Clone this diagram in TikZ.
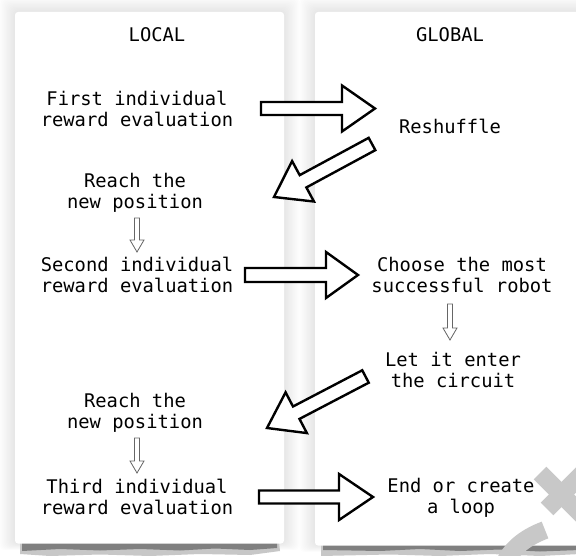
\documentclass[tikz,border=0pt]{standalone}
\usepackage{fontspec}
\newfontfamily\dmono{DejaVu Sans Mono}
\usetikzlibrary{calc}
\definecolor{wmgray}{HTML}{C8C8C8}
\tikzset{
  lbl/.style={font=\dmono\fontsize{18.8}{21}\selectfont, align=center, inner sep=0pt, text=black},
  bigarr/.style={draw=black, fill=white, line width=2.4pt, line join=miter},
  smallarr/.style={draw=black!60, fill=white, line width=0.8pt, line join=miter},
  panel/.style={fill=white, rounded corners=3pt},
  glow/.style={fill=black, opacity=0.007, rounded corners=6pt},
  torn/.style={fill=black!50},
  tornsoft/.style={fill=black!22},
  wm/.style={draw=wmgray, line cap=butt},
}
% block arrow: style, from, to, shaft half width, head half width, head length
\newcommand\blockarrow[6]{%
  \path[#1] ($(#2)!#4!90:(#3)$) -- ($(#3)!#6!(#2)!#4!-90:(#2)$)
    -- ($(#3)!#6!(#2)!#5!-90:(#2)$) -- (#3)
    -- ($(#3)!#6!(#2)!#5!90:(#2)$) -- ($(#3)!#6!(#2)!#4!90:(#2)$)
    -- ($(#2)!#4!-90:(#3)$) -- cycle;}
\begin{document}
\begin{tikzpicture}[x=1pt, y=-1pt]
\useasboundingbox (0,0) rectangle (576,556);
\clip (0,0) rectangle (576,556);
\fill[white] (0,0) rectangle (576,556);
% soft glow around panels
\foreach \i in {1,...,12} {
  \fill[glow] ({15-\i*1.3},{12-\i*1.3}) rectangle ({284+\i*1.3},{543+\i*0.6});
  \fill[glow] ({315-\i*1.3},{12-\i*1.3}) rectangle ({600+\i*1.3},{545+\i*0.6});
}
% torn bottom shadows
\fill[tornsoft] (20,542) -- (279,542) -- (280,551) -- (250,555) -- (200,554) -- (150,556) -- (100,554.5) -- (50,556) -- (20,554) -- cycle;
\fill[torn] (22,543) -- (277,543) -- (277,548) -- (250,550) -- (215,548.5) -- (180,550.5) -- (140,549) -- (100,550.5) -- (60,549) -- (22,551) -- cycle;
\fill[tornsoft] (321,544) -- (580,544) -- (580,554) -- (540,556) -- (490,554) -- (440,556) -- (390,554.5) -- (321,556) -- cycle;
\fill[torn] (323,545) -- (580,545) -- (580,550) -- (540,551.5) -- (500,549.5) -- (460,551) -- (420,549) -- (380,551) -- (323,550) -- cycle;
% panels
\fill[panel] (15,12) rectangle (284,543.5);
\fill[panel] (315,12) rectangle (600,545.5);
% watermark
\draw[wm, line width=18pt] (540,473) -- (600,533);
\draw[wm, line width=18pt] (547,509) -- (600,456);
\draw[wm, line width=18pt] (503,566) .. controls (511,549) and (524,538) .. (545,530);
% headings
\node[lbl] (local) at (157,35) {LOCAL};
\node[lbl] (global) at (450,35) {GLOBAL};
% steps
\node[lbl] (l1) at (137,109) {First individual\\reward evaluation};
\node[lbl] (r1) at (450,126) {Reshuffle};
\node[lbl] (l2) at (135,193) {Reach the\\new position};
\node[lbl] (l3) at (137,275) {Second individual\\reward evaluation};
\node[lbl] (r2) at (462,275) {Choose the most\\successful robot};
\node[lbl] (r3) at (453,370) {Let it enter\\the circuit};
\node[lbl] (l4) at (135,412.5) {Reach the\\new position};
\node[lbl] (l5) at (137,497) {Third individual\\reward evaluation};
\node[lbl] (r4) at (461,497.5) {End or create\\a loop};
% arrow end points
\coordinate (a1s) at (261,108.5);  \coordinate (a1e) at (375,108.5);
\coordinate (d1s) at (372,144);    \coordinate (d1e) at (274,197);
\coordinate (s1s) at (137,218);    \coordinate (s1e) at (137,252);
\coordinate (a2s) at (245,275);    \coordinate (a2e) at (358,275);
\coordinate (s2s) at (450,304);    \coordinate (s2e) at (450,340);
\coordinate (d2s) at (365.5,376.5); \coordinate (d2e) at (267,428);
\coordinate (s3s) at (137,438);    \coordinate (s3e) at (137,473);
\coordinate (a3s) at (259,497);    \coordinate (a3e) at (373,497);
% big block arrows
\blockarrow{bigarr}{a1s}{a1e}{6.5pt}{23pt}{33pt}
\blockarrow{bigarr}{d1s}{d1e}{7pt}{23pt}{33pt}
\blockarrow{bigarr}{a2s}{a2e}{7pt}{23pt}{32pt}
\blockarrow{bigarr}{d2s}{d2e}{7pt}{23pt}{33pt}
\blockarrow{bigarr}{a3s}{a3e}{6.5pt}{23pt}{34pt}
% small arrows
\blockarrow{smallarr}{s1s}{s1e}{2.5pt}{7pt}{12pt}
\blockarrow{smallarr}{s2s}{s2e}{2.5pt}{7pt}{12pt}
\blockarrow{smallarr}{s3s}{s3e}{2.5pt}{7pt}{12pt}
\end{tikzpicture}
\end{document}
